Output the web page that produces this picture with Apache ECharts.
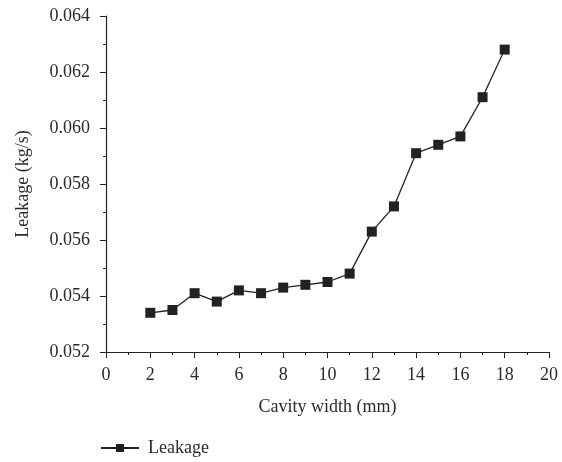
<!DOCTYPE html>
<html>
<head>
<meta charset="utf-8">
<script src="https://cdn.jsdelivr.net/npm/echarts@6/dist/echarts.min.js"></script>
<style>
  html, body { margin: 0; padding: 0; background: #fff; }
  #chart { width: 562px; height: 462px; }
</style>
</head>
<body>
<div id="chart"></div>
<script>
// Cavity width (mm)
const cavityWidth = [2, 3, 4, 5, 6, 7, 8, 9, 10, 11, 12, 13, 14, 15, 16, 17, 18];
// Leakage (kg/s)
const leakage = [0.0534, 0.0535, 0.0541, 0.0538, 0.0542, 0.0541, 0.0543, 0.0544, 0.0545,
                 0.0548, 0.0563, 0.0572, 0.0591, 0.0594, 0.0597, 0.0611, 0.0628];
const seriesName = 'Leakage';
const xTitle = 'Cavity width (mm)';
const yTitle = 'Leakage (kg/s)';

const font = 'Liberation Serif';
const ink = '#222';
const textColor = '#2a2a2a';
const fs = 18;

const chart = echarts.init(document.getElementById('chart'));
chart.setOption({
  animation: false,
  textStyle: { fontFamily: font },
  grid: { left: 106, right: 13, top: 16, bottom: 110 },
  legend: {
    data: [seriesName],
    left: 95,
    top: 434,
    itemWidth: 38,
    itemHeight: 10,
    itemGap: 14,
    textStyle: { fontFamily: font, fontSize: fs, color: textColor, padding: [0, 0, 0, 4] }
  },
  xAxis: {
    type: 'value',
    min: 0, max: 20, interval: 2,
    name: xTitle,
    nameLocation: 'middle',
    nameGap: 46,
    nameTextStyle: { fontFamily: font, fontSize: fs, color: textColor },
    axisLine: { show: true, onZero: false, lineStyle: { color: ink, width: 1.2 } },
    axisTick: { show: true, inside: false, length: 6, lineStyle: { color: ink } },
    minorTick: { show: true, splitNumber: 2, length: 3, lineStyle: { color: ink } },
    axisLabel: { fontFamily: font, fontSize: fs, color: textColor, margin: 14 },
    splitLine: { show: false }
  },
  yAxis: {
    type: 'value',
    min: 0.052, max: 0.064, interval: 0.002,
    name: yTitle,
    nameLocation: 'middle',
    nameGap: 74,
    nameTextStyle: { fontFamily: font, fontSize: fs, color: textColor },
    axisLine: { show: true, onZero: false, lineStyle: { color: ink, width: 1.2 } },
    axisTick: { show: true, inside: false, length: 6, lineStyle: { color: ink } },
    minorTick: { show: true, splitNumber: 2, length: 3, lineStyle: { color: ink } },
    axisLabel: {
      fontFamily: font, fontSize: fs, color: textColor, margin: 16,
      formatter: v => v.toFixed(3)
    },
    splitLine: { show: false }
  },
  series: [{
    name: seriesName,
    type: 'line',
    data: cavityWidth.map((x, i) => [x, leakage[i]]),
    symbol: 'rect',
    symbolSize: 10,
    itemStyle: { color: ink },
    lineStyle: { color: ink, width: 1.3 }
  }]
});
</script>
</body>
</html>
